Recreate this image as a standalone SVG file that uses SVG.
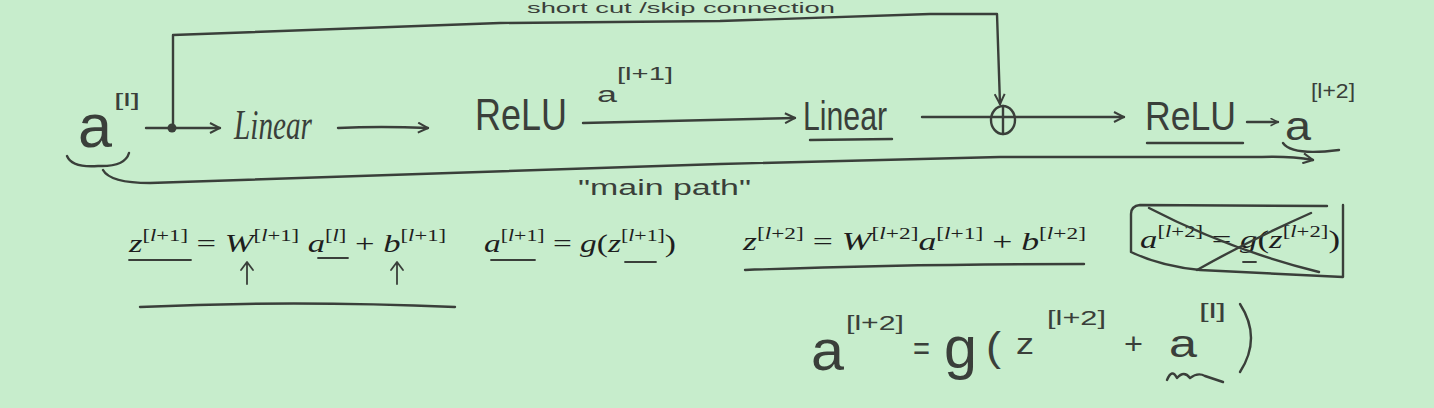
<svg xmlns="http://www.w3.org/2000/svg" width="1434" height="408" viewBox="0 0 1434 408">
<defs>
<style>
.hw{font-family:"Liberation Sans","DejaVu Sans",sans-serif;fill:#3a3f3a}
.cur{font-family:"Liberation Serif",serif;font-style:italic;fill:#3a3f3a}
.eq{font-family:"Liberation Serif","DejaVu Serif",serif;fill:#1e1e1e;font-size:26px}
.it{font-style:italic}
.ink{fill:none;stroke:#3a3f3a;stroke-width:2.4;stroke-linecap:round;stroke-linejoin:round}
.thin{fill:none;stroke:#3a3f3a;stroke-width:1.8;stroke-linecap:round;stroke-linejoin:round}
</style>
<marker id="oa" viewBox="0 0 12 12" refX="11" refY="6" markerWidth="12" markerHeight="12" markerUnits="userSpaceOnUse" orient="auto">
<path d="M1,1 L11,6 L1,11" fill="none" stroke="#3a3f3a" stroke-width="2"/>
</marker>
<marker id="oa2" viewBox="0 0 12 12" refX="11" refY="6" markerWidth="9" markerHeight="9" markerUnits="userSpaceOnUse" orient="auto">
<path d="M1,1 L11,6 L1,11" fill="none" stroke="#3a3f3a" stroke-width="2"/>
</marker>
</defs>
<rect width="1434" height="408" fill="#c7edcc"/>

<text class="hw" x="527" y="13" font-size="15" textLength="308" lengthAdjust="spacingAndGlyphs">short cut /skip connection</text>

<g id="connectors">
<path class="ink" d="M146,128 L220,128" marker-end="url(#oa)"/>
<circle cx="172" cy="128" r="4.5" fill="#3a3f3a"/>
<path class="ink" d="M338,128 Q380,126 428,128" marker-end="url(#oa)"/>
<path class="ink" d="M583,123 L795,118" marker-end="url(#oa)"/>
<path class="ink" d="M922,117 L1124,117" marker-end="url(#oa)"/>
<path class="ink" d="M1247,122 L1278,122" marker-end="url(#oa2)"/>
<path class="ink" d="M173,127 L173,35 L500,23 L720,21 L930,14 L997,14 L1000,104" marker-end="url(#oa)"/>
<path class="ink" d="M103,170 Q110,183 150,183 L720,164 L1000,157 L1262,157 Q1290,156 1313,160" marker-end="url(#oa)"/>
</g>

<g id="a_l">
<text class="hw" x="78" y="147" font-size="62" textLength="34" lengthAdjust="spacingAndGlyphs">a</text>
<text class="hw" x="114" y="106" font-size="19" textLength="26" lengthAdjust="spacingAndGlyphs">[l]</text>
<path class="ink" d="M67,156 Q72,168 98,166 Q125,167 129,153"/>
</g>

<g id="linear1">
<text class="cur" x="234" y="139" font-size="42" textLength="78" lengthAdjust="spacingAndGlyphs">Linear</text>
</g>

<g id="relu1">
<text class="hw" x="475" y="130" font-size="44" textLength="92" lengthAdjust="spacingAndGlyphs">ReLU</text>
</g>

<g id="a_l1_label">
<text class="hw" x="597" y="102" font-size="22" textLength="20" lengthAdjust="spacingAndGlyphs">a</text>
<text class="hw" x="617" y="80" font-size="18" textLength="56" lengthAdjust="spacingAndGlyphs">[l+1]</text>
</g>

<g id="linear2">
<text class="hw" x="803" y="130" font-size="40" textLength="84" lengthAdjust="spacingAndGlyphs">Linear</text>
<path class="ink" d="M810,140 L892,139"/>
</g>

<g id="add">
<ellipse class="ink" cx="1003" cy="120" rx="12" ry="14"/>
<path class="ink" d="M1003,106 L1003,134"/>
</g>

<g id="relu2">
<text class="hw" x="1145" y="130" font-size="40" textLength="91" lengthAdjust="spacingAndGlyphs">ReLU</text>
<path class="ink" d="M1147,143 L1243,143"/>
</g>

<g id="a_l2">
<text class="hw" x="1285" y="140" font-size="40" textLength="26" lengthAdjust="spacingAndGlyphs">a</text>
<text class="hw" x="1311" y="98" font-size="20" textLength="44" lengthAdjust="spacingAndGlyphs">[l+2]</text>
<path class="ink" d="M1283,143 Q1292,156 1339,150"/>
</g>

<g id="main_path_label">
<text class="hw" x="578" y="195" font-size="22" textLength="173" lengthAdjust="spacingAndGlyphs">"main path"</text>
</g>

<g id="eq1">
<text class="eq" x="129" y="252" textLength="317" lengthAdjust="spacingAndGlyphs"><tspan class="it">z</tspan><tspan font-size="17" dy="-11">[<tspan class="it">l</tspan>+1]</tspan><tspan dy="11"> = </tspan><tspan class="it">W</tspan><tspan font-size="17" dy="-11">[<tspan class="it">l</tspan>+1]</tspan><tspan dy="11"> </tspan><tspan class="it">a</tspan><tspan font-size="17" dy="-11">[<tspan class="it">l</tspan>]</tspan><tspan dy="11"> + </tspan><tspan class="it">b</tspan><tspan font-size="17" dy="-11">[<tspan class="it">l</tspan>+1]</tspan></text>
<path class="thin" d="M129,260 L191,260 M318,258 L348,258"/>
<path class="thin" d="M247,284 L247,263 M241,270 L247,262 L253,270"/>
<path class="thin" d="M397,284 L397,263 M391,270 L397,262 L403,270"/>
<path class="ink" d="M140,307 Q290,300 455,307"/>
</g>

<g id="eq2">
<text class="eq" x="484" y="252" textLength="192" lengthAdjust="spacingAndGlyphs"><tspan class="it">a</tspan><tspan font-size="17" dy="-11">[<tspan class="it">l</tspan>+1]</tspan><tspan dy="11"> = </tspan><tspan class="it">g</tspan>(<tspan class="it">z</tspan><tspan font-size="17" dy="-11">[<tspan class="it">l</tspan>+1]</tspan><tspan dy="11">)</tspan></text>
<path class="thin" d="M491,260 L535,260 M625,262 L656,262"/>
</g>

<g id="eq3">
<text class="eq" x="743" y="250" textLength="343" lengthAdjust="spacingAndGlyphs"><tspan class="it">z</tspan><tspan font-size="17" dy="-11">[<tspan class="it">l</tspan>+2]</tspan><tspan dy="11"> = </tspan><tspan class="it">W</tspan><tspan font-size="17" dy="-11">[<tspan class="it">l</tspan>+2]</tspan><tspan dy="11" class="it">a</tspan><tspan font-size="17" dy="-11">[<tspan class="it">l</tspan>+1]</tspan><tspan dy="11"> + </tspan><tspan class="it">b</tspan><tspan font-size="17" dy="-11">[<tspan class="it">l</tspan>+2]</tspan></text>
<path class="ink" d="M745,270 Q900,264 1084,264"/>
</g>

<g id="eq4">
<text class="eq" x="1140" y="248" textLength="200" lengthAdjust="spacingAndGlyphs"><tspan class="it">a</tspan><tspan font-size="17" dy="-11">[<tspan class="it">l</tspan>+2]</tspan><tspan dy="11"> = </tspan><tspan class="it">g</tspan>(<tspan class="it">z</tspan><tspan font-size="17" dy="-11">[<tspan class="it">l</tspan>+2]</tspan><tspan dy="11">)</tspan></text>
<path class="ink" d="M1327,206 L1140,205 Q1131,206 1131,214 L1131,252 Q1160,266 1200,270 L1343,277 L1343,205"/>
<path class="ink" d="M1149,208 Q1230,250 1319,272"/>
<path class="ink" d="M1311,213 Q1250,240 1197,270"/>
<path class="thin" d="M1243,262 L1256,262"/>
</g>

<g id="eq5">
<text class="hw" x="811" y="370" font-size="58" textLength="33" lengthAdjust="spacingAndGlyphs">a</text>
<text class="hw" x="846" y="330" font-size="20" textLength="58" lengthAdjust="spacingAndGlyphs">[l+2]</text>
<text class="hw" x="913" y="360" font-size="34" textLength="17" lengthAdjust="spacingAndGlyphs">=</text>
<text class="hw" x="944" y="368" font-size="60" textLength="33" lengthAdjust="spacingAndGlyphs">g</text>
<text class="hw" x="986" y="361" font-size="40" textLength="15" lengthAdjust="spacingAndGlyphs">(</text>
<text class="hw" x="1016" y="354" font-size="30" textLength="18" lengthAdjust="spacingAndGlyphs">z</text>
<text class="hw" x="1047" y="325" font-size="20" textLength="59" lengthAdjust="spacingAndGlyphs">[l+2]</text>
<text class="hw" x="1124" y="354" font-size="30" textLength="19" lengthAdjust="spacingAndGlyphs">+</text>
<text class="hw" x="1169" y="357" font-size="38" textLength="28" lengthAdjust="spacingAndGlyphs">a</text>
<text class="hw" x="1199" y="318" font-size="20" textLength="27" lengthAdjust="spacingAndGlyphs">[l]</text>
<path class="ink" d="M1240,304 Q1262,338 1240,372"/>
<path class="ink" d="M1167,380 Q1172,368 1177,378 Q1184,370 1190,378 Q1198,372 1205,376 L1223,382"/>
</g>
</svg>
